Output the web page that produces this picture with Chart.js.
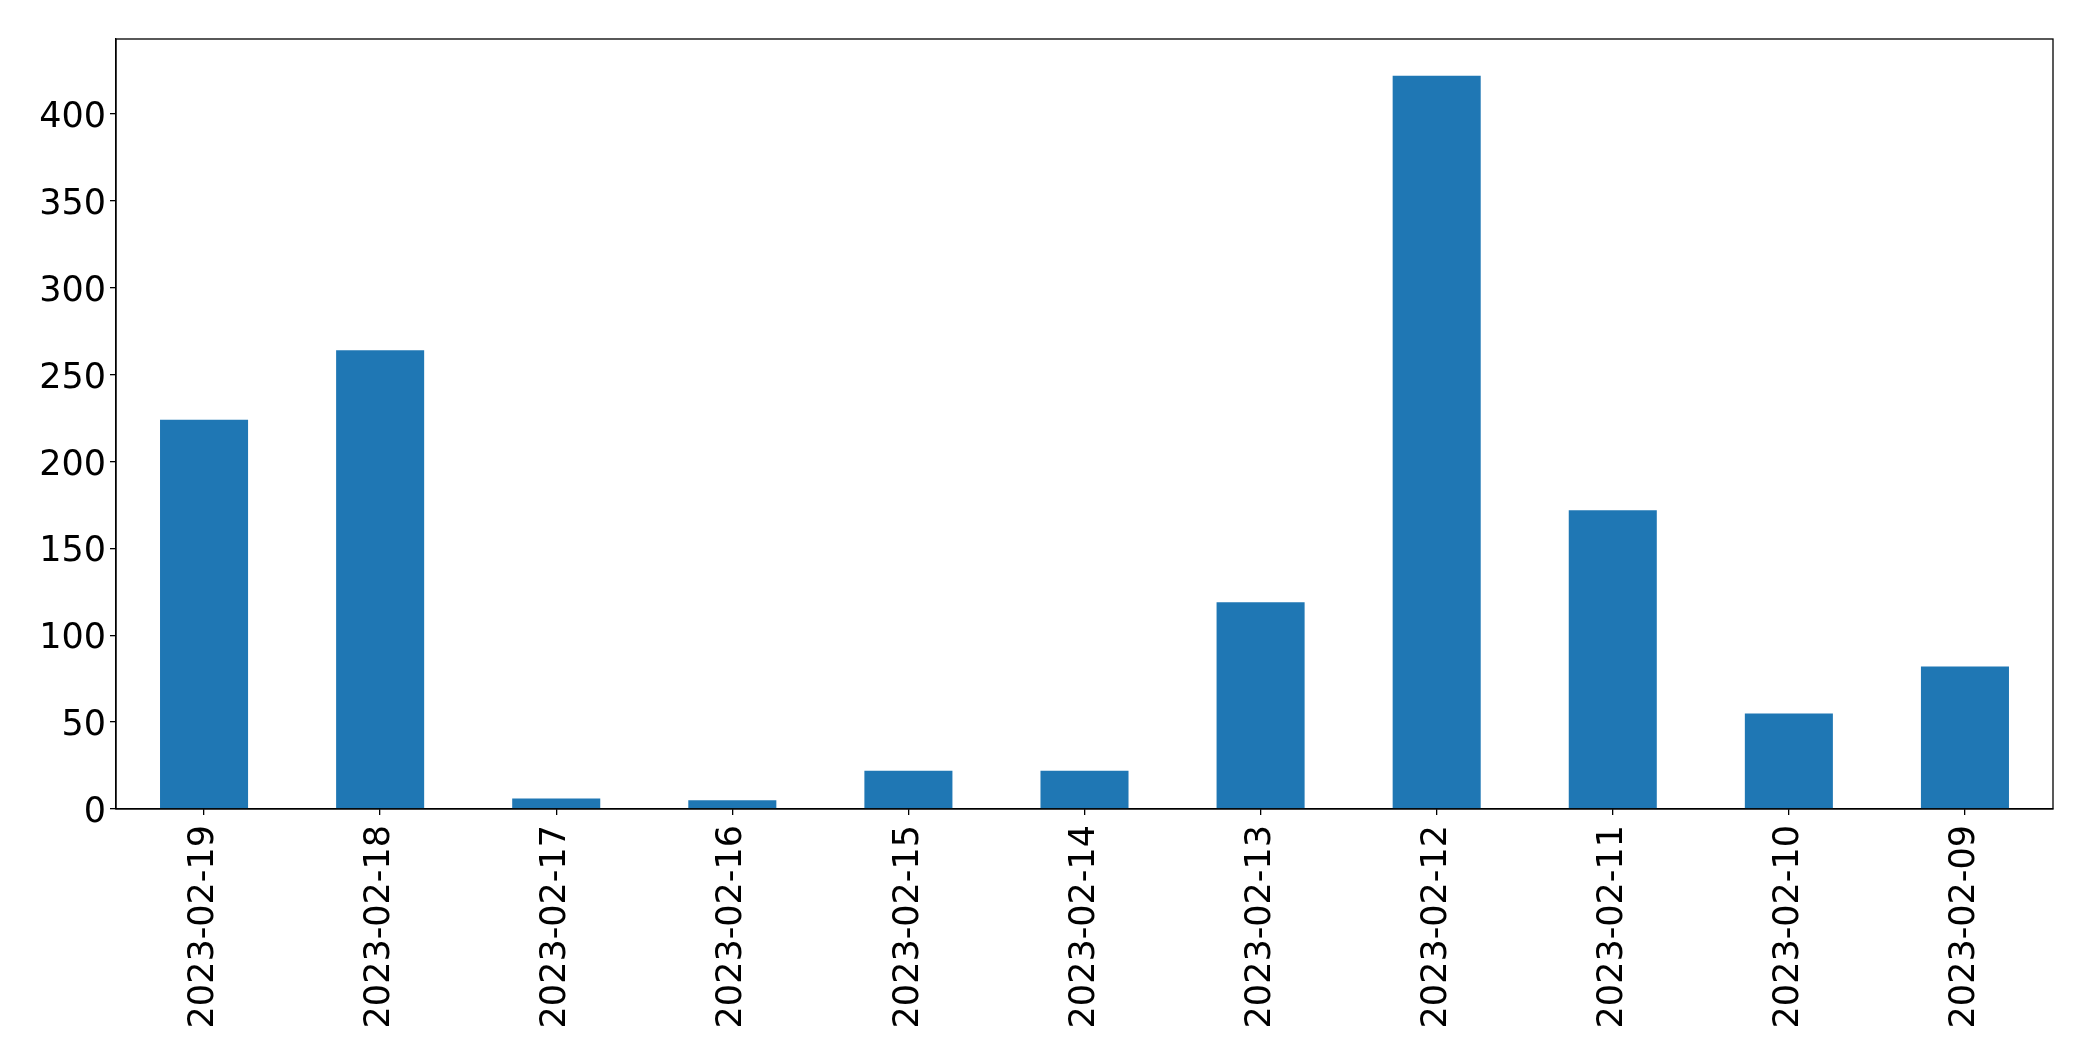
<!DOCTYPE html>
<html>
<head>
<meta charset="utf-8">
<script src="https://cdn.jsdelivr.net/npm/chart.js@4/dist/chart.umd.min.js"></script>
<style>
    html, body { margin: 0; padding: 0; background: #fff; }
    #wrap { width: 2093px; height: 1061px; }
</style>
</head>
<body>
<div id="wrap"><canvas id="chart-bars"></canvas></div>
<script>
// data
const dates = ['2023-02-19', '2023-02-18', '2023-02-17', '2023-02-16', '2023-02-15', '2023-02-14',
               '2023-02-13', '2023-02-12', '2023-02-11', '2023-02-10', '2023-02-09'];
const counts = [224, 264, 6, 5, 22, 22, 119, 422, 172, 55, 82];
const yTicks = [0, 50, 100, 150, 200, 250, 300, 350, 400];
const yMax = 443.2;

const FONT = { family: 'DejaVu Sans', size: 35 };

// matplotlib style box around the plot area
const frame = {
    id: 'frame',
    afterDraw(chart) {
        const { ctx, chartArea: a } = chart;
        ctx.save();
        ctx.strokeStyle = '#000';
        ctx.lineWidth = 1.3;
        ctx.strokeRect(a.left, a.top, a.right - a.left, a.bottom - a.top);
        ctx.restore();
    }
};

new Chart(document.getElementById('chart-bars'), {
    type: 'bar',
    data: {
        labels: dates,
        datasets: [{
            data: counts,
            backgroundColor: '#1f77b4',
            barPercentage: 0.5,
            categoryPercentage: 1.0
        }]
    },
    options: {
        responsive: true,
        maintainAspectRatio: false,
        animation: false,
        layout: { padding: { top: 39, right: 40, left: 0, bottom: 0 } },
        plugins: { legend: { display: false }, tooltip: { enabled: false } },
        scales: {
            x: {
                grid: { display: true, offset: false, drawOnChartArea: false, drawTicks: true, tickLength: 6, color: '#000', lineWidth: 1.3 },
                border: { display: true, color: '#000', width: 1.3 },
                ticks: { color: '#000', font: FONT, minRotation: 90, maxRotation: 90, padding: 10, autoSkip: false },
                afterFit: axis => { axis.height = 252; }
            },
            y: {
                min: 0,
                max: yMax,
                grid: { display: true, drawOnChartArea: false, drawTicks: true, tickLength: 6, color: '#000', lineWidth: 1.3 },
                border: { display: true, color: '#000', width: 1.3 },
                ticks: { color: '#000', font: FONT, padding: 4, labelOffset: 4 },
                afterBuildTicks: axis => { axis.ticks = yTicks.map(v => ({ value: v })); },
                afterFit: axis => { axis.width = 116; }
            }
        }
    },
    plugins: [frame]
});
</script>
</body>
</html>
